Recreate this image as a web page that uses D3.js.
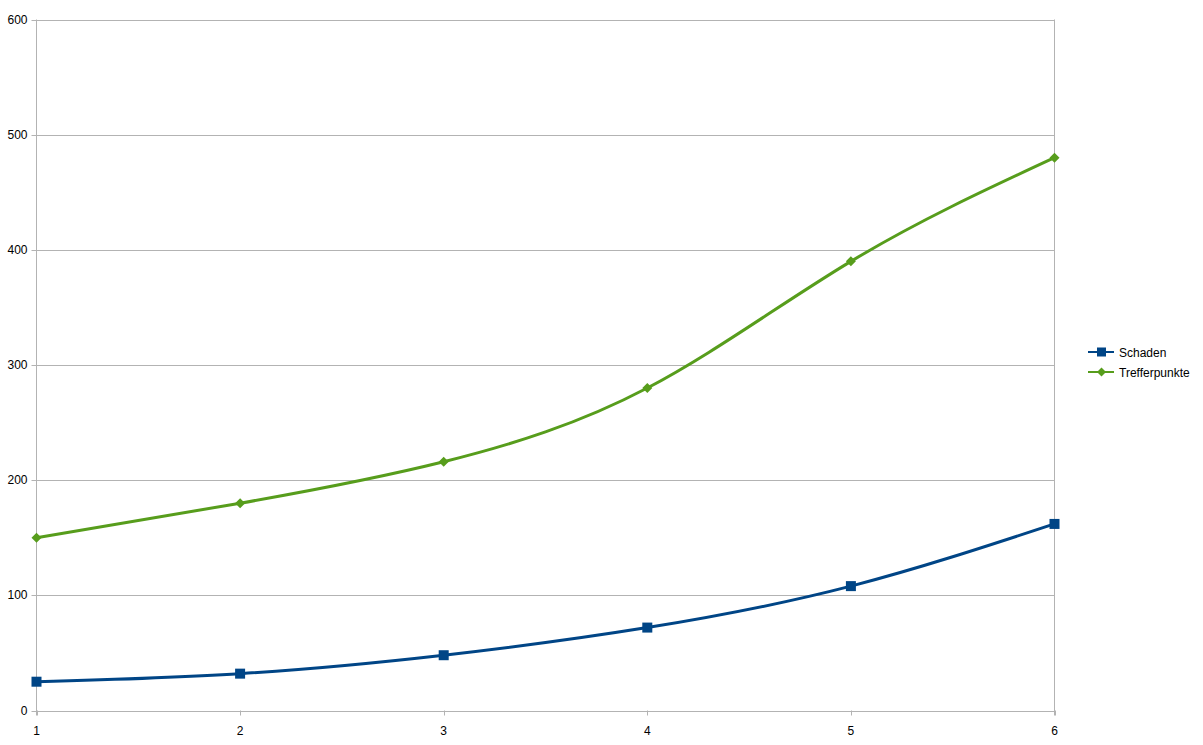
<!DOCTYPE html>
<html><head><meta charset="utf-8">
<script src="https://cdn.jsdelivr.net/npm/d3@7"></script>
<style>body{margin:0;background:#fff}svg{display:block}text{font-family:"Liberation Sans",Arial,sans-serif;font-size:12px;fill:#000}</style>
</head><body><svg id="c" width="1203" height="745"></svg>
<script>
const categories = [1, 2, 3, 4, 5, 6];
const schaden = [25, 32, 48, 72, 108, 162];
const trefferpunkte = [150, 180, 216, 280, 390, 480];
const yTicks = [0, 100, 200, 300, 400, 500, 600];
const seriesNames = ["Schaden", "Trefferpunkte"];
const colors = ["#004586", "#579d1c"];

const svg = d3.select("#c");
const L = 36.5, R = 1054.5, T = 19.5, B = 710.5;
const x = d3.scaleLinear().domain([1, 6]).range([L, R]);
const y = d3.scaleLinear().domain([0, 600]).range([B, T]);

// grid
svg.append("g").selectAll("line").data(yTicks).join("line")
  .attr("x1", L - 5).attr("x2", R).attr("y1", d => Math.round(y(d)) + 0.5).attr("y2", d => Math.round(y(d)) + 0.5)
  .attr("stroke", "#b3b3b3").attr("stroke-width", 1);
// vertical axis lines
svg.append("line").attr("x1", L).attr("x2", L).attr("y1", T).attr("y2", B + 5).attr("stroke", "#b3b3b3");
svg.append("line").attr("x1", R).attr("x2", R).attr("y1", T).attr("y2", B + 5).attr("stroke", "#b3b3b3");
// x ticks
svg.append("g").selectAll("line").data(categories).join("line")
  .attr("x1", d => Math.round(x(d)) + 0.5).attr("x2", d => Math.round(x(d)) + 0.5).attr("y1", B).attr("y2", B + 5)
  .attr("stroke", "#b3b3b3");
// labels
svg.append("g").selectAll("text").data(yTicks).join("text")
  .attr("x", L - 9).attr("y", d => y(d) + 4).attr("text-anchor", "end").text(d => d);
svg.append("g").selectAll("text").data(categories).join("text")
  .attr("x", d => x(d)).attr("y", B + 24).attr("text-anchor", "middle").text(d => d);

const line = d3.line().x((d, i) => x(categories[i])).y(d => y(d)).curve(d3.curveNatural);
const seriesData = [schaden, trefferpunkte];
seriesData.forEach((s, k) => {
  svg.append("path").attr("d", line(s)).attr("fill", "none").attr("stroke", colors[k]).attr("stroke-width", 3);
});
function marker(g, k, cx, cy) {
  if (k === 0) g.append("rect").attr("x", cx - 5).attr("y", cy - 5).attr("width", 10).attr("height", 10).attr("fill", colors[0]);
  else g.append("path").attr("d", `M${cx},${cy-5}L${cx+5},${cy}L${cx},${cy+5}L${cx-5},${cy}Z`).attr("fill", colors[1]);
}
const mg = svg.append("g");
seriesData.forEach((s, k) => s.forEach((v, i) => marker(mg, k, x(categories[i]), y(v))));

// legend
const lg = svg.append("g");
seriesNames.forEach((n, k) => {
  const ly = 352 + k * 20;
  lg.append("line").attr("x1", 1088).attr("x2", 1114).attr("y1", ly).attr("y2", ly).attr("stroke", colors[k]).attr("stroke-width", 2);
  if (k === 0) lg.append("rect").attr("x", 1097).attr("y", ly - 4.5).attr("width", 9).attr("height", 9).attr("fill", colors[0]);
  else lg.append("path").attr("d", `M1101.5,${ly-4.5}L1106,${ly}L1101.5,${ly+4.5}L1097,${ly}Z`).attr("fill", colors[1]);
  lg.append("text").attr("x", 1119).attr("y", ly + 4.5).text(n);
});
</script></body></html>
